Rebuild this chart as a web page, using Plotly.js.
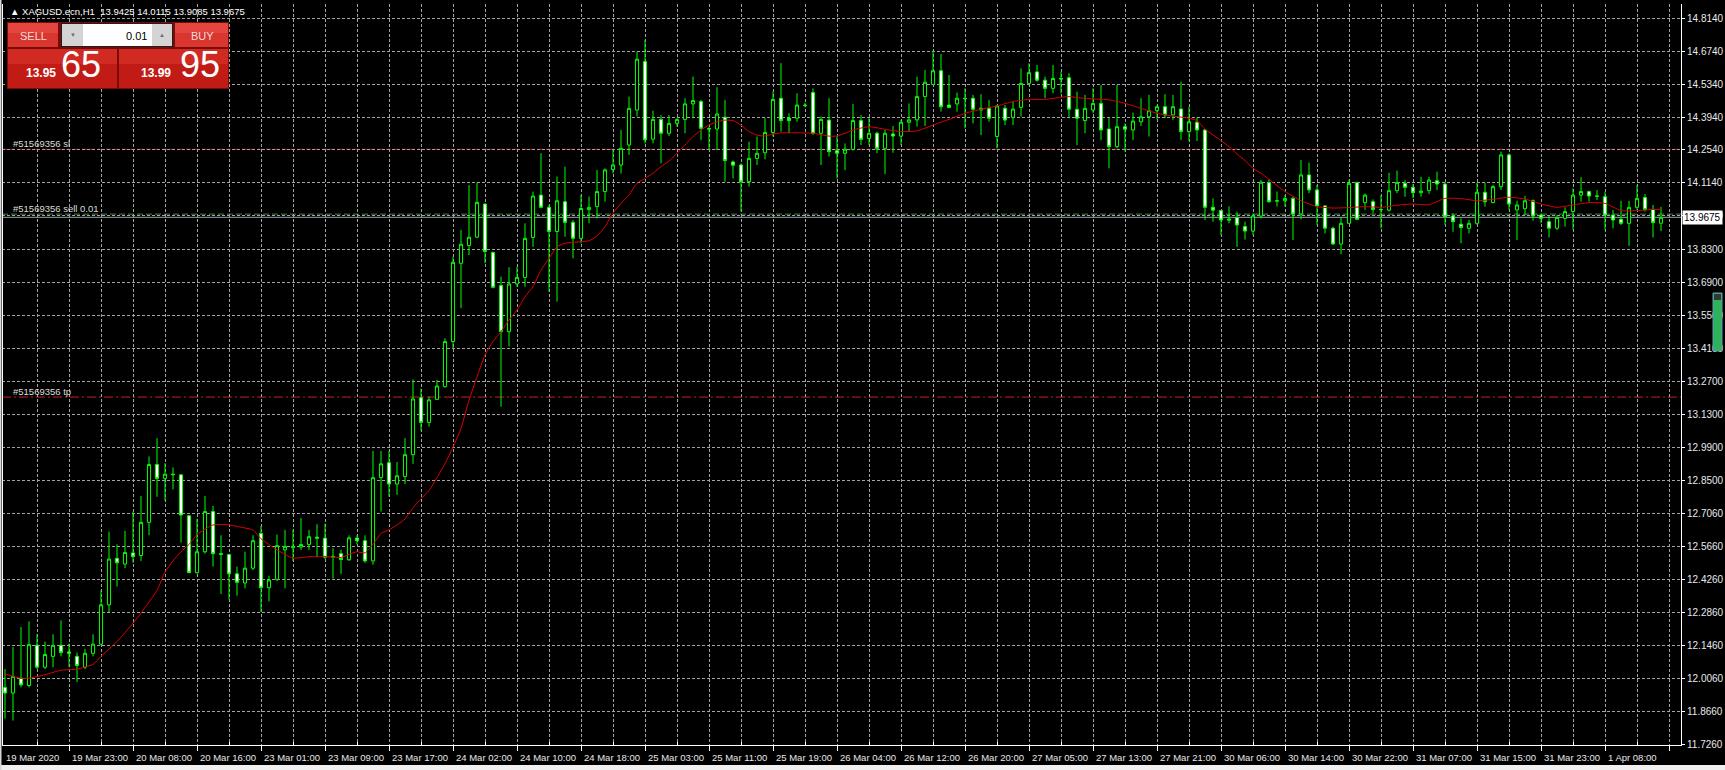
<!DOCTYPE html>
<html><head><meta charset="utf-8">
<script src="https://cdn.plot.ly/plotly-3.0.1.min.js"></script>
<style>html,body{margin:0;padding:0;background:#000;overflow:hidden}#chart{width:1725px;height:770px}</style>
</head><body><div id="chart"></div>
<script>
// ---------- data ----------
const symbolTitle = "XAGUSD.ecn,H1";
const lastBarOHLC = ["13.9425", "14.0115", "13.9085", "13.9675"];

const openP = [
11.968,11.944,12.007,11.976,12.147,12.054,12.100,12.147,12.119,12.100,
12.054,12.113,12.152,12.319,12.517,12.493,12.540,12.529,12.670,12.916,
12.857,12.875,12.872,12.698,12.456,12.545,12.716,12.537,12.533,12.451,
12.412,12.475,12.623,12.392,12.428,12.553,12.562,12.565,12.576,12.607,
12.603,12.522,12.537,12.511,12.603,12.592,12.506,12.860,12.924,12.833,
12.865,12.958,13.200,13.095,13.193,13.247,13.439,13.772,13.847,13.883,
14.024,13.818,13.677,13.481,13.684,13.712,13.882,14.062,14.010,13.907,
14.034,13.946,13.878,14.000,14.013,14.077,14.171,14.190,14.275,14.424,
14.630,14.300,14.384,14.325,14.367,14.384,14.450,14.460,14.345,14.343,
14.393,14.203,14.190,14.119,14.218,14.242,14.328,14.474,14.389,14.389,
14.445,14.498,14.325,14.381,14.251,14.240,14.257,14.379,14.303,14.325,
14.261,14.322,14.313,14.372,14.382,14.481,14.533,14.591,14.445,14.450,
14.474,14.474,14.424,14.431,14.311,14.431,14.393,14.435,14.537,14.586,
14.551,14.516,14.558,14.561,14.427,14.379,14.424,14.452,14.343,14.268,
14.353,14.339,14.374,14.395,14.421,14.438,14.403,14.428,14.332,14.372,
14.339,14.010,13.996,13.955,13.967,13.928,13.909,13.973,14.115,14.036,
14.038,14.048,13.982,14.148,14.084,14.016,13.921,13.854,13.942,14.115,
14.030,14.034,14.001,13.998,14.081,14.112,14.095,14.072,14.081,14.123,
14.109,13.973,13.938,13.921,13.942,14.074,14.030,14.098,14.233,13.999,
14.004,14.038,13.977,13.949,13.921,13.963,13.992,14.062,14.077,14.058,
14.055,13.977,13.959,13.942,14.010,14.052,14.001,13.9425];

const highP = [
12.046,12.140,12.225,12.249,12.194,12.163,12.194,12.253,12.155,12.116,
12.132,12.194,12.381,12.631,12.576,12.634,12.716,12.782,12.950,13.028,
12.922,12.904,12.875,12.700,12.685,12.782,12.740,12.615,12.537,12.482,
12.545,12.615,12.654,12.443,12.618,12.638,12.638,12.688,12.638,12.662,
12.665,12.560,12.553,12.615,12.615,12.615,12.974,12.974,12.974,12.927,
13.028,13.278,13.239,13.205,13.276,13.453,13.800,13.914,14.105,14.115,
14.027,13.822,13.715,13.755,13.757,13.942,14.077,14.240,14.020,14.141,
14.183,13.956,14.063,14.056,14.169,14.176,14.254,14.339,14.481,14.672,
14.722,14.421,14.402,14.402,14.389,14.474,14.566,14.467,14.353,14.521,
14.467,14.209,14.197,14.289,14.311,14.389,14.502,14.623,14.410,14.495,
14.455,14.516,14.396,14.474,14.311,14.282,14.450,14.403,14.389,14.332,
14.339,14.356,14.382,14.452,14.566,14.594,14.676,14.662,14.573,14.498,
14.516,14.488,14.491,14.467,14.445,14.445,14.459,14.601,14.623,14.616,
14.566,14.616,14.587,14.580,14.502,14.488,14.516,14.530,14.389,14.530,
14.367,14.413,14.474,14.488,14.445,14.491,14.488,14.544,14.438,14.393,
14.343,14.048,13.998,14.014,13.991,13.949,13.984,14.126,14.129,14.077,
14.062,14.055,14.211,14.200,14.105,14.020,13.928,13.967,14.129,14.119,
14.069,14.044,14.062,14.157,14.166,14.126,14.109,14.140,14.140,14.162,
14.119,13.984,13.963,13.956,14.115,14.115,14.105,14.247,14.240,14.038,
14.058,14.044,13.984,13.973,13.977,14.010,14.091,14.138,14.081,14.084,
14.077,13.999,14.038,14.038,14.105,14.067,14.020,14.0115];

const lowP = [
11.835,11.827,11.968,11.968,12.046,12.046,12.054,12.100,12.054,11.991,
12.046,12.100,12.147,12.288,12.397,12.475,12.498,12.506,12.615,12.779,
12.763,12.810,12.584,12.455,12.451,12.537,12.482,12.365,12.342,12.358,
12.389,12.467,12.288,12.334,12.420,12.389,12.506,12.553,12.553,12.522,
12.514,12.431,12.451,12.506,12.576,12.498,12.490,12.716,12.779,12.787,
12.833,12.919,13.059,13.077,13.191,13.244,13.410,13.581,13.807,13.879,
13.772,13.665,13.162,13.418,13.672,13.672,13.842,14.005,13.651,13.609,
13.885,13.793,13.857,13.942,13.963,14.034,14.154,14.154,14.233,14.396,
14.282,14.282,14.197,14.313,14.352,14.325,14.389,14.296,14.254,14.254,
14.119,14.133,13.992,14.098,14.190,14.214,14.311,14.332,14.325,14.374,
14.435,14.318,14.190,14.226,14.133,14.168,14.251,14.275,14.275,14.240,
14.152,14.242,14.275,14.332,14.353,14.356,14.532,14.417,14.431,14.417,
14.346,14.367,14.317,14.374,14.261,14.360,14.360,14.396,14.530,14.544,
14.474,14.495,14.495,14.389,14.275,14.325,14.410,14.296,14.176,14.261,
14.247,14.296,14.356,14.311,14.384,14.389,14.382,14.296,14.292,14.292,
13.956,13.949,13.892,13.942,13.842,13.873,13.892,13.963,14.030,14.013,
14.013,13.871,13.959,14.070,13.935,13.899,13.850,13.811,13.939,13.956,
14.000,13.984,13.921,13.992,14.070,14.055,14.048,14.055,14.067,14.084,
13.935,13.906,13.857,13.899,13.935,14.013,14.027,14.084,13.999,13.871,
13.977,13.953,13.942,13.882,13.914,13.928,13.914,14.034,14.034,14.041,
13.914,13.921,13.935,13.846,13.999,13.992,13.882,13.9085];

const closeP = [
11.944,12.015,11.979,12.150,12.054,12.108,12.147,12.116,12.113,12.061,
12.113,12.152,12.319,12.514,12.498,12.542,12.524,12.670,12.916,12.857,
12.875,12.873,12.701,12.456,12.545,12.716,12.537,12.534,12.451,12.415,
12.475,12.592,12.392,12.425,12.571,12.568,12.568,12.576,12.609,12.603,
12.522,12.525,12.512,12.604,12.592,12.506,12.860,12.919,12.833,12.868,
12.958,13.195,13.095,13.191,13.250,13.439,13.776,13.853,13.883,14.031,
13.822,13.670,13.481,13.684,13.712,13.878,14.058,14.010,13.907,14.038,
13.946,13.878,14.005,14.010,14.077,14.169,14.190,14.261,14.431,14.640,
14.297,14.384,14.325,14.367,14.384,14.450,14.464,14.346,14.343,14.407,
14.209,14.189,14.119,14.218,14.240,14.328,14.469,14.379,14.379,14.445,
14.443,14.325,14.384,14.247,14.240,14.257,14.379,14.299,14.325,14.261,
14.325,14.313,14.372,14.382,14.481,14.542,14.591,14.438,14.435,14.474,
14.472,14.427,14.431,14.389,14.441,14.381,14.428,14.537,14.583,14.551,
14.516,14.558,14.556,14.427,14.389,14.431,14.452,14.339,14.268,14.353,
14.342,14.377,14.395,14.421,14.438,14.403,14.438,14.332,14.374,14.339,
14.010,13.998,13.956,13.960,13.935,13.909,13.973,14.117,14.034,14.038,
14.048,13.982,14.148,14.084,14.016,13.921,13.854,13.942,14.112,13.959,
14.062,14.001,14.000,14.081,14.115,14.095,14.072,14.079,14.126,14.109,
13.970,13.949,13.924,13.942,14.074,14.034,14.098,14.233,14.024,14.020,
14.038,13.973,13.963,13.921,13.967,13.992,14.062,14.077,14.058,14.057,
13.977,13.956,13.942,14.010,14.048,14.001,13.945,13.9675];

// moving average (red line), read at these bars
const maBar = [0,2,3,5,7,9,11,12,14,16,17,19,20,21,22,23,24,26,28,30,31,32,34,36,38,40,42,43,44,45,46,47,48,49,50,51,52,53,54,55,56,57,58,59,60,61,62,63,64,65,66,67,68,69,70,71,72,73,74,75,76,77,78,79,80,81,82,83,84,85,86,87,88,89,90,91,92,93,94,95,96,97,99,101,103,104,105,106,108,110,112,114,116,118,120,122,124,126,128,130,132,133,134,136,138,140,142,144,146,148,149,150,151,152,153,154,155,156,157,158,160,162,164,166,168,170,172,174,176,178,180,182,184,186,188,190,192,194,196,198,200,202,204,206,207];
const maVal = [12.025,12.007,12.007,12.022,12.041,12.046,12.066,12.100,12.163,12.241,12.284,12.381,12.459,12.506,12.545,12.576,12.618,12.659,12.659,12.646,12.638,12.600,12.553,12.518,12.524,12.524,12.521,12.534,12.545,12.540,12.576,12.623,12.638,12.659,12.685,12.732,12.771,12.805,12.860,12.920,12.990,13.070,13.190,13.289,13.382,13.439,13.481,13.531,13.573,13.630,13.672,13.743,13.793,13.842,13.857,13.861,13.864,13.868,13.888,13.928,13.985,14.027,14.063,14.112,14.133,14.155,14.183,14.207,14.240,14.275,14.311,14.339,14.360,14.374,14.381,14.379,14.360,14.332,14.317,14.313,14.322,14.327,14.327,14.325,14.313,14.313,14.325,14.339,14.353,14.342,14.332,14.335,14.360,14.384,14.410,14.427,14.441,14.460,14.469,14.469,14.478,14.481,14.477,14.471,14.467,14.452,14.431,14.410,14.398,14.389,14.379,14.342,14.318,14.294,14.268,14.237,14.209,14.176,14.155,14.129,14.077,14.038,14.013,14.007,14.009,14.013,14.010,14.019,14.024,14.021,14.048,14.047,14.038,14.044,14.053,14.045,14.024,14.010,14.020,14.030,14.027,13.996,13.996,14.001,14.001];

const timeLabels = ["19 Mar 2020","19 Mar 23:00","20 Mar 08:00","20 Mar 16:00","23 Mar 01:00","23 Mar 09:00","23 Mar 17:00","24 Mar 02:00","24 Mar 10:00","24 Mar 18:00","25 Mar 03:00","25 Mar 11:00","25 Mar 19:00","26 Mar 04:00","26 Mar 12:00","26 Mar 20:00","27 Mar 05:00","27 Mar 13:00","27 Mar 21:00","30 Mar 06:00","30 Mar 14:00","30 Mar 22:00","31 Mar 07:00","31 Mar 15:00","31 Mar 23:00","1 Apr 08:00"];
const priceLabels = ["14.8140","14.6740","14.5340","14.3940","14.2540","14.1140","13.9740","13.8300","13.6900","13.5500","13.4100","13.2700","13.1300","12.9900","12.8500","12.7060","12.5660","12.4260","12.2860","12.1460","12.0060","11.8660","11.7260"];

const orderId = "#51569356";
const slPrice = 14.257, tpPrice = 13.203, entryPrice = 13.981, bidPrice = 13.9675;
const lotSize = "0.01";
const sellQuote = ["13.95", "65"], buyQuote = ["13.99", "95"];

// ---------- layout geometry ----------
const W = 1725, H = 770, ML = 2, MR = 44, MT = 4, MB = 25;
const PW = W - ML - MR, PH = H - MT - MB;
const BAR_PX = 8, FIRST_BAR_PX = 5;
const fx = p => (p - ML) / PW;
const fy = p => 1 - (p - MT) / PH;

const bars = openP.map((_, i) => i);
const priceVals = priceLabels.map(Number);
const topLab = priceVals[0], botLab = priceVals[priceVals.length - 1];
const perPx = (topLab - botLab) / (744.3 - 18.3);
const yRange = [botLab - (745 - 744.3) * perPx, topLab + (18.3 - MT) * perPx];
const x0 = (ML - FIRST_BAR_PX) / BAR_PX;
const xRange = [x0, x0 + PW / BAR_PX];

const majorTicks = [], minorTicks = [];
for (let b = 8; b <= 208; b += 8) majorTicks.push(b);
for (let b = 4; b <= 204; b += 8) minorTicks.push(b);

const FONT = "Liberation Sans, Arial, sans-serif";
const TXT = "#e8e8e8";
const GRID = "#a3a3a3";

const traces = [
  {type: 'candlestick', x: bars, open: openP, high: highP, low: lowP, close: closeP,
   increasing: {line: {color: '#00ff00', width: 1}, fillcolor: '#000000'},
   decreasing: {line: {color: '#00ff00', width: 1}, fillcolor: '#ffffff'},
   whiskerwidth: 0, hoverinfo: 'skip', showlegend: false},
  {type: 'scatter', mode: 'lines', x: maBar, y: maVal,
   line: {color: '#e00000', width: 1, shape: 'spline', smoothing: 0.5},
   hoverinfo: 'skip', showlegend: false}
];

const shapes = [];
function rect(x0p, y0p, x1p, y1p, fill, lineColor, lw) {
  shapes.push({type: 'rect', xref: 'paper', yref: 'paper', x0: fx(x0p), x1: fx(x1p), y0: fy(y0p), y1: fy(y1p),
    fillcolor: fill, line: {color: lineColor || fill, width: lineColor ? (lw || 1) : 0}, layer: 'above'});
}
// level lines
shapes.push({type: 'line', xref: 'paper', x0: 0, x1: 1, yref: 'y', y0: slPrice, y1: slPrice, layer: 'between',
  line: {color: '#c81e1e', width: 1, dash: '5px,3px'}});
shapes.push({type: 'line', xref: 'paper', x0: 0, x1: 1, yref: 'y', y0: tpPrice, y1: tpPrice, layer: 'between',
  line: {color: '#d01e1e', width: 1, dash: '9px,3px,2px,3px'}});
shapes.push({type: 'line', xref: 'paper', x0: 0, x1: 1, yref: 'y', y0: entryPrice, y1: entryPrice, layer: 'between',
  line: {color: '#3f8a3f', width: 1, dash: '6px,3px'}});
shapes.push({type: 'line', xref: 'paper', x0: 0, x1: 1, yref: 'y', y0: bidPrice, y1: bidPrice, layer: 'between',
  line: {color: '#9aa4ae', width: 1}});
// left frame line
shapes.push({type: 'line', xref: 'paper', yref: 'paper', x0: fx(2.5), x1: fx(2.5), y0: 0, y1: 1, line: {color: '#ffffff', width: 1}, layer: 'above'});
// window frame strips
rect(0, 765, 1725, 770, '#f0f0f0');
rect(0, 0, 1.5, 770, '#d8d8d8');

// one-click trading panel
rect(7, 22, 229, 89, '#7a0b08');
rect(8, 23, 58, 47, '#d9362f');
rect(8, 23, 58, 33, '#e2463f');
rect(61, 23, 173, 47, '#202020');
rect(62, 24, 83, 46, '#d4d4d4');
rect(83, 24, 152, 46, '#ffffff');
rect(152, 24, 172, 46, '#d4d4d4');
rect(175, 23, 228, 47, '#d9362f');
rect(175, 23, 228, 33, '#e2463f');
rect(8, 49, 117, 88, '#c11b15');
rect(8, 49, 117, 64, '#d02a23');
rect(119, 49, 228, 88, '#c11b15');
rect(119, 49, 228, 64, '#d02a23');
// spread/volume gauge at right
rect(1713, 293, 1722, 351, '#2fb35a', '#6d93b5', 1);
rect(1714, 294, 1721, 300, '#2c3a31');

const ann = [];
function txt(text, xp, yp, opt) {
  ann.push(Object.assign({text: text, xref: 'paper', yref: 'paper', x: fx(xp), y: fy(yp),
    xanchor: 'left', yanchor: 'middle', showarrow: false,
    font: {family: FONT, size: 10, color: TXT}}, opt || {}));
}
// chart title
txt('\u25B2 ' + symbolTitle + '\u00a0\u00a0' + lastBarOHLC.join(' '), 8, 11.5, {font: {family: FONT, size: 9.5, color: '#ffffff'}});
// panel texts
txt('SELL', 33, 35.5, {xanchor: 'center', font: {family: FONT, size: 11, color: '#f6dcda'}});
txt('BUY', 202, 35.5, {xanchor: 'center', font: {family: FONT, size: 11, color: '#f6dcda'}});
txt('\u25BC', 72.5, 34.5, {xanchor: 'center', font: {family: FONT, size: 6, color: '#6c6c80'}});
txt('\u25B2', 162, 34.5, {xanchor: 'center', font: {family: FONT, size: 6, color: '#6c6c80'}});
txt(lotSize, 149, 35.5, {xanchor: 'right', font: {family: FONT, size: 11, color: '#000000'}});
txt('<b>' + sellQuote[0] + '</b>', 58.5, 73, {xanchor: 'right', font: {family: FONT, size: 12, color: '#ffffff'}});
txt(sellQuote[1], 59, 64.5, {font: {family: 'Liberation Sans Narrow, Liberation Sans, Arial', size: 36, color: '#ffffff'}});
txt('<b>' + buyQuote[0] + '</b>', 173, 73, {xanchor: 'right', font: {family: FONT, size: 12, color: '#ffffff'}});
txt(buyQuote[1], 178, 64.5, {font: {family: 'Liberation Sans Narrow, Liberation Sans, Arial', size: 36, color: '#ffffff'}});

// order level labels
[[slPrice, orderId + ' sl'], [entryPrice, orderId + ' sell ' + lotSize], [tpPrice, orderId + ' tp']].forEach(function (l) {
  ann.push({text: l[1], xref: 'paper', x: fx(11), yref: 'y', y: l[0], yshift: 6, xanchor: 'left', yanchor: 'middle',
    showarrow: false, font: {family: FONT, size: 9.5, color: '#dcdcdc'}});
});
// bid price box on axis
ann.push({text: bidPrice.toFixed(4), xref: 'paper', x: fx(1682), yref: 'y', y: bidPrice, xanchor: 'left', yanchor: 'middle',
  showarrow: false, bgcolor: '#ffffff', borderpad: 1, font: {family: FONT, size: 10, color: '#000000'}});
// time labels
timeLabels.forEach(function (t, k) {
  ann.push({text: t, xref: 'x', x: k * 8, xshift: k === 0 ? -1 : 1, yref: 'paper', y: fy(757.5), xanchor: 'left', yanchor: 'middle',
    showarrow: false, font: {family: FONT, size: 9.5, color: TXT}});
});

const layout = {
  width: W, height: H,
  margin: {l: ML, r: MR, t: MT, b: MB, pad: 0},
  paper_bgcolor: '#000000', plot_bgcolor: '#000000',
  showlegend: false, hovermode: false, dragmode: false,
  boxgap: 0.45,
  xaxis: {range: xRange, type: 'linear', fixedrange: true, rangeslider: {visible: false},
    tickmode: 'array', tickvals: majorTicks, showticklabels: false,
    ticks: 'outside', ticklen: 5, tickcolor: '#ffffff', tickwidth: 1,
    showgrid: true, gridcolor: GRID, griddash: '3px,2px', gridwidth: 1,
    minor: {tickmode: 'array', tickvals: minorTicks, showgrid: true, gridcolor: GRID, griddash: '3px,2px', gridwidth: 1,
            ticks: 'inside', ticklen: 3, tickcolor: '#ffffff'},
    showline: true, linecolor: '#ffffff', linewidth: 1, zeroline: false},
  yaxis: {range: yRange, side: 'right', fixedrange: true,
    tickmode: 'array', tickvals: priceVals, ticktext: priceLabels,
    ticks: 'outside', ticklen: 3, tickcolor: '#ffffff',
    tickfont: {family: FONT, size: 10, color: TXT},
    showgrid: true, gridcolor: GRID, griddash: '3px,2px', gridwidth: 1,
    showline: true, linecolor: '#ffffff', linewidth: 1, zeroline: false, automargin: false},
  shapes: shapes,
  annotations: ann
};

Plotly.newPlot('chart', traces, layout, {staticPlot: true, displayModeBar: false});
</script>
</body></html>
